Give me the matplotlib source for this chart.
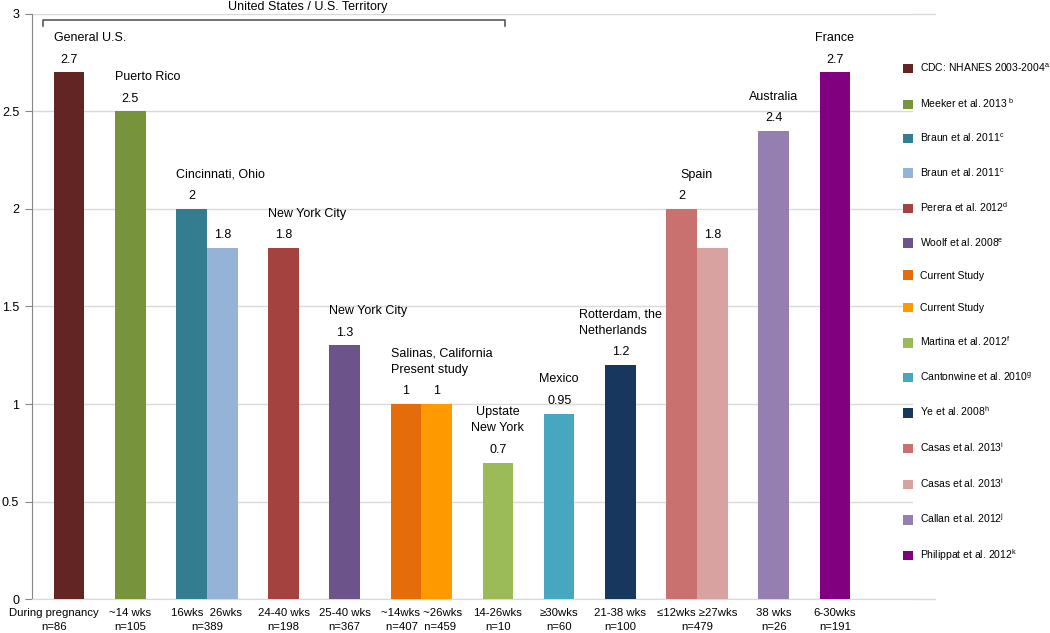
import numpy as np
import matplotlib.pyplot as plt
from matplotlib.patches import Patch
from matplotlib.transforms import blended_transform_factory, ScaledTranslation

plt.rcParams['font.family'] = ['Liberation Sans', 'DejaVu Sans']
plt.rcParams['mathtext.fontset'] = 'custom'
plt.rcParams['mathtext.rm'] = 'Liberation Sans'
plt.rcParams['mathtext.default'] = 'regular'

## Data
sources = ["CDC: NHANES 2003-2004", "Meeker et al. 2013 ", "Braun et al. 2011",
           "Braun et al. 2011", "Perera et al. 2012", "Woolf et al. 2008",
           "Current Study", "Current Study", "Martina et al. 2012",
           "Cantonwine et al. 2010", "Ye et al. 2008", "Casas et al. 2013",
           "Casas et al. 2013", "Callan et al. 2012", "Philippat et al. 2012"]
notes = ["a", "b", "c", "c", "d", "e", "", "", "f", "g", "h", "i", "i", "j", "k"]
values = [2.7, 2.5, 2.0, 1.8, 1.8, 1.3, 1.0, 1.0, 0.7, 0.95, 1.2, 2.0, 1.8, 2.4, 2.7]
colors = ["#632523", "#77933C", "#347D90", "#95B3D7", "#A44240", "#6C538A",
          "#E46C0A", "#FF9900", "#9BBB59", "#47A6C0", "#17375E", "#C8716F",
          "#D8A2A1", "#957FB0", "#800080"]

locations = ["General U.S.", "Puerto Rico", "Cincinnati, Ohio", "New York City",
             "New York City", "Salinas, California\nPresent study", "Upstate\nNew York",
             "Mexico", "Rotterdam, the\nNetherlands", "Spain", "Australia", "France"]
group_sizes = [1, 1, 2, 1, 1, 2, 1, 1, 1, 2, 1, 1]
timings = ["During pregnancy", "~14 wks", "16wks  26wks", "24-40 wks", "25-40 wks",
           "~14wks ~26wks", "14-26wks", "\u226530wks", "21-38 wks",
           "\u226412wks \u226527wks", "38 wks", "6-30wks"]
n_labels = ["n=86", "n=105", "n=389", "n=198", "n=367", "n=407  n=459", "n=10",
            "n=60", "n=100", "n=479", "n=26", "n=191"]

# label placement style per group
loc_ha = ["left"] * 6 + ["center"] * 6
loc_ma = ["left"] * 6 + ["center", "center", "left", "center", "center", "center"]

## Positions: bars inside a group touch, one bar gap between groups
pos = []
centers = []
start = 0
for size in group_sizes:
    pos += [start + i for i in range(size)]
    centers.append(start + (size - 1) / 2)
    start += size + 1

fig = plt.figure(figsize=(10.5, 6.33), dpi=100)
ax = fig.add_axes([0.0302, 0.0537, 0.8393, 0.9242])

bars = ax.bar(pos, values, width=1.0, color=colors, zorder=3)
ax.bar_label(bars, fmt='{:g}', padding=5, fontsize=9)

ax.set_xlim(-1.22, 27.55)
ax.set_ylim(0, 3)
ax.set_yticks(np.arange(0, 3.01, 0.5))
ax.set_yticklabels(['0', '0.5', '1', '1.5', '2', '2.5', '3'])
ax.yaxis.grid(True, color='#d9d9d9', lw=1)
ax.set_axisbelow(True)
for s in ['top', 'right']:
    ax.spines[s].set_visible(False)
ax.spines['bottom'].set_color('#d9d9d9')
ax.spines['left'].set_color('#868686')
ax.tick_params(axis='y', length=5, color='#868686', labelsize=9, pad=4)
ax.set_xticks(centers, [f'{t}\n{n}' for t, n in zip(timings, n_labels)])
ax.tick_params(axis='x', length=0, labelsize=8.2, pad=6.5)
for lab in ax.get_xticklabels():
    lab.set_linespacing(1.45)
# first label sits a little left, as in the original
first_lab = ax.get_xticklabels()[0]
first_lab.set_transform(first_lab.get_transform() +
                        ScaledTranslation(-0.15, 0, fig.dpi_scale_trans))

# top and bottom lines run a bit past the gridlines
for yy in [0, 1]:
    ax.plot([1, 1.025], [yy, yy], transform=ax.transAxes, clip_on=False,
            color='#d9d9d9', lw=1)

# location labels
first = 0
for g, size in enumerate(group_sizes):
    top = max(values[first:first + size])
    if loc_ha[g] == "left":
        x = pos[first] - 0.5
    else:
        x = centers[g]
    ax.annotate(locations[g], (x, top), xytext=(0, 20.5), textcoords='offset points',
                ha=loc_ha[g], va='bottom', fontsize=9, multialignment=loc_ma[g],
                linespacing=1.5)
    first += size

# US bracket
trans = blended_transform_factory(ax.transData, ax.transAxes)
us_bars = sum(group_sizes[:7])
x0 = pos[0] - 0.85
x1 = pos[us_bars - 1] + 0.23
ax.plot([x0, x0, x1, x1], [0.9795, 0.9897, 0.9897, 0.9795], transform=trans,
        color='#595959', lw=1.2, clip_on=False)
ax.text((x0 + x1) / 2 + 1.1, 1.012, 'United States / U.S. Territory', transform=trans,
        ha='center', va='center', fontsize=9)

# legend
handles = [Patch(facecolor=c, edgecolor='none') for c in colors]
labels = [f'{s}$^{{{n}}}$' if n else s for s, n in zip(sources, notes)]
fig.legend(handles, labels, loc='upper left', bbox_to_anchor=(903 / 1050, 1 - 62 / 633),
           frameon=False, fontsize=7.5, handlelength=1.0, handleheight=1.0,
           handletextpad=0.65, labelspacing=2.1, borderpad=0, borderaxespad=0)

fig.savefig('out.png', dpi=100)
